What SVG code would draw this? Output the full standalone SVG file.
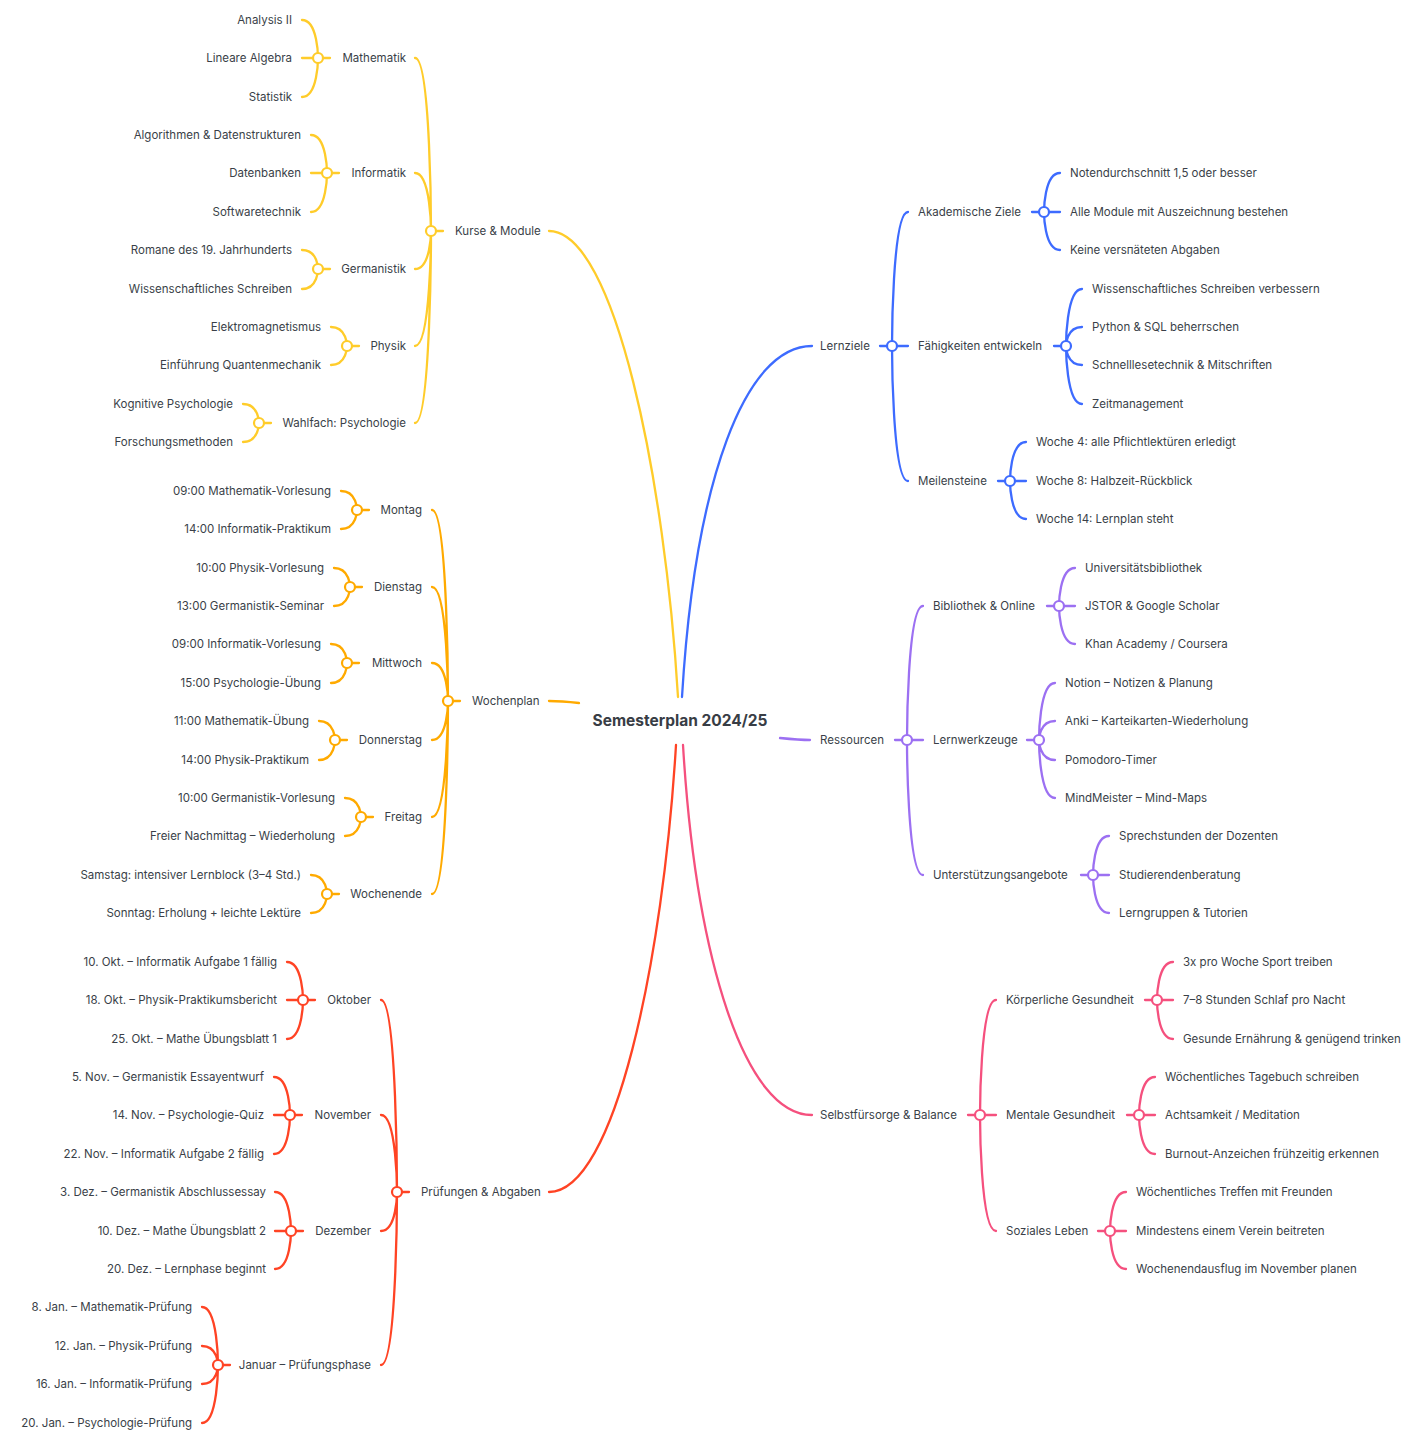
<svg xmlns="http://www.w3.org/2000/svg" width="1414" height="1450" viewBox="0 0 1414 1450">
<style>
text{font-family:Inter,"Liberation Sans",sans-serif;font-size:11.5px;fill:#3a3f48;dominant-baseline:central}
.e{text-anchor:end}
.root{font-size:15.5px;font-weight:700;text-anchor:middle;fill:#383d45}
path{fill:none;stroke-width:2.3;stroke-linecap:round}
circle{fill:#fff;stroke-width:2.2}
.y{stroke:#FFCC2A}.o{stroke:#FFAA00}.r{stroke:#FF4324}.b{stroke:#3D6BFF}.p{stroke:#9C70F2}.k{stroke:#F5507E}
</style>
<rect width="1414" height="1450" fill="#fff"/>
<g id="connectors">
<g class="y">
<path d="M678,697 C665,480 615,231 549,231"/>
<path d="M415,58 C431,58 431,231 431,231M415,173 C431,173 431,231 431,231M415,269 C431,269 431,231 431,231M415,346 C431,346 431,231 431,231M415,423 C431,423 431,231 431,231M431,231 L443,231"/>
<path d="M302,20 C318,20 318,58 318,58M302,58 L318,58M302,97 C318,97 318,58 318,58M318,58 L330,58"/>
<path d="M311,135 C327,135 327,173 327,173M311,173 L327,173M311,212 C327,212 327,173 327,173M327,173 L339,173"/>
<path d="M302,250 C318,250 318,269 318,269M302,289 C318,289 318,269 318,269M318,269 L330,269"/>
<path d="M331,327 C347,327 347,346 347,346M331,365 C347,365 347,346 347,346M347,346 L359,346"/>
<path d="M243,404 C259,404 259,423 259,423M243,442 C259,442 259,423 259,423M259,423 L271,423"/>
<circle cx="431" cy="231" r="5"/><circle cx="318" cy="58" r="5"/><circle cx="327" cy="173" r="5"/><circle cx="318" cy="269" r="5"/><circle cx="347" cy="346" r="5"/><circle cx="259" cy="423" r="5"/>
</g>
<g class="o">
<path d="M549,701 C560,701 570,702 579,703"/>
<path d="M432,510 C448,510 448,701 448,701M432,587 C448,587 448,701 448,701M432,663 C448,663 448,701 448,701M432,740 C448,740 448,701 448,701M432,817 C448,817 448,701 448,701M432,894 C448,894 448,701 448,701M448,701 L460,701"/>
<path d="M341,491 C357,491 357,510 357,510M341,529 C357,529 357,510 357,510M357,510 L369,510"/>
<path d="M334,568 C350,568 350,587 350,587M334,606 C350,606 350,587 350,587M350,587 L362,587"/>
<path d="M331,644 C347,644 347,663 347,663M331,683 C347,683 347,663 347,663M347,663 L359,663"/>
<path d="M319,721 C335,721 335,740 335,740M319,760 C335,760 335,740 335,740M335,740 L347,740"/>
<path d="M345,798 C361,798 361,817 361,817M345,836 C361,836 361,817 361,817M361,817 L373,817"/>
<path d="M311,875 C327,875 327,894 327,894M311,913 C327,913 327,894 327,894M327,894 L339,894"/>
<circle cx="448" cy="701" r="5"/><circle cx="357" cy="510" r="5"/><circle cx="350" cy="587" r="5"/><circle cx="347" cy="663" r="5"/><circle cx="335" cy="740" r="5"/><circle cx="361" cy="817" r="5"/><circle cx="327" cy="894" r="5"/>
</g>
<g class="r">
<path d="M676,745 C663,960 615,1192 549,1192"/>
<path d="M381,1000 C397,1000 397,1192 397,1192M381,1115 C397,1115 397,1192 397,1192M381,1231 C397,1231 397,1192 397,1192M381,1365 C397,1365 397,1192 397,1192M397,1192 L409,1192"/>
<path d="M287,962 C303,962 303,1000 303,1000M287,1000 L303,1000M287,1039 C303,1039 303,1000 303,1000M303,1000 L315,1000"/>
<path d="M274,1077 C290,1077 290,1115 290,1115M274,1115 L290,1115M274,1154 C290,1154 290,1115 290,1115M290,1115 L302,1115"/>
<path d="M275,1192 C291,1192 291,1231 291,1231M275,1231 L291,1231M275,1269 C291,1269 291,1231 291,1231M291,1231 L303,1231"/>
<path d="M202,1307 C218,1307 218,1365 218,1365M202,1346 C218,1346 218,1365 218,1365M202,1384 C218,1384 218,1365 218,1365M202,1423 C218,1423 218,1365 218,1365M218,1365 L230,1365"/>
<circle cx="397" cy="1192" r="5"/><circle cx="303" cy="1000" r="5"/><circle cx="290" cy="1115" r="5"/><circle cx="291" cy="1231" r="5"/><circle cx="218" cy="1365" r="5"/>
</g>
<g class="b">
<path d="M682,697 C695,480 745,346 812,346"/>
<path d="M880,346 L892,346M908,212 C892,212 892,346 892,346M908,346 L892,346M908,481 C892,481 892,346 892,346"/>
<path d="M1032,212 L1044,212M1060,173 C1044,173 1044,212 1044,212M1060,212 L1044,212M1060,250 C1044,250 1044,212 1044,212"/>
<path d="M1054,346 L1066,346M1082,289 C1066,289 1066,346 1066,346M1082,327 C1066,327 1066,346 1066,346M1082,365 C1066,365 1066,346 1066,346M1082,404 C1066,404 1066,346 1066,346"/>
<path d="M998,481 L1010,481M1026,442 C1010,442 1010,481 1010,481M1026,481 L1010,481M1026,519 C1010,519 1010,481 1010,481"/>
<circle cx="892" cy="346" r="5"/><circle cx="1044" cy="212" r="5"/><circle cx="1066" cy="346" r="5"/><circle cx="1010" cy="481" r="5"/>
</g>
<g class="p">
<path d="M780,738 C790,739 800,740 810,740"/>
<path d="M895,740 L907,740M923,606 C907,606 907,740 907,740M923,740 L907,740M923,875 C907,875 907,740 907,740"/>
<path d="M1047,606 L1059,606M1075,568 C1059,568 1059,606 1059,606M1075,606 L1059,606M1075,644 C1059,644 1059,606 1059,606"/>
<path d="M1027,740 L1039,740M1055,683 C1039,683 1039,740 1039,740M1055,721 C1039,721 1039,740 1039,740M1055,760 C1039,760 1039,740 1039,740M1055,798 C1039,798 1039,740 1039,740"/>
<path d="M1081,875 L1093,875M1109,836 C1093,836 1093,875 1093,875M1109,875 L1093,875M1109,913 C1093,913 1093,875 1093,875"/>
<circle cx="907" cy="740" r="5"/><circle cx="1059" cy="606" r="5"/><circle cx="1039" cy="740" r="5"/><circle cx="1093" cy="875" r="5"/>
</g>
<g class="k">
<path d="M683,745 C696,960 745,1115 812,1115"/>
<path d="M968,1115 L980,1115M996,1000 C980,1000 980,1115 980,1115M996,1115 L980,1115M996,1231 C980,1231 980,1115 980,1115"/>
<path d="M1145,1000 L1157,1000M1173,962 C1157,962 1157,1000 1157,1000M1173,1000 L1157,1000M1173,1039 C1157,1039 1157,1000 1157,1000"/>
<path d="M1127,1115 L1139,1115M1155,1077 C1139,1077 1139,1115 1139,1115M1155,1115 L1139,1115M1155,1154 C1139,1154 1139,1115 1139,1115"/>
<path d="M1098,1231 L1110,1231M1126,1192 C1110,1192 1110,1231 1110,1231M1126,1231 L1110,1231M1126,1269 C1110,1269 1110,1231 1110,1231"/>
<circle cx="980" cy="1115" r="5"/><circle cx="1157" cy="1000" r="5"/><circle cx="1139" cy="1115" r="5"/><circle cx="1110" cy="1231" r="5"/>
</g>
</g>
<g id="root"><text class="root" x="680" y="720">Semesterplan 2024/25</text></g>
<g id="kurse"><text x="455" y="231">Kurse &amp; Module</text></g>
<g id="mathematik"><text class="e" x="406" y="58">Mathematik</text></g>
<g id="analysis"><text class="e" x="292" y="20">Analysis II</text></g>
<g id="linalg"><text class="e" x="292" y="58">Lineare Algebra</text></g>
<g id="statistik"><text class="e" x="292" y="97">Statistik</text></g>
<g id="informatik"><text class="e" x="406" y="173">Informatik</text></g>
<g id="algo"><text class="e" x="301" y="135">Algorithmen &amp; Datenstrukturen</text></g>
<g id="db"><text class="e" x="301" y="173">Datenbanken</text></g>
<g id="swt"><text class="e" x="301" y="212">Softwaretechnik</text></g>
<g id="germanistik"><text class="e" x="406" y="269">Germanistik</text></g>
<g id="romane"><text class="e" x="292" y="250">Romane des 19. Jahrhunderts</text></g>
<g id="wissschreiben"><text class="e" x="292" y="289">Wissenschaftliches Schreiben</text></g>
<g id="physik"><text class="e" x="406" y="346">Physik</text></g>
<g id="elektro"><text class="e" x="321" y="327">Elektromagnetismus</text></g>
<g id="quanten"><text class="e" x="321" y="365">Einführung Quantenmechanik</text></g>
<g id="wahlfach"><text class="e" x="406" y="423">Wahlfach: Psychologie</text></g>
<g id="kogpsy"><text class="e" x="233" y="404">Kognitive Psychologie</text></g>
<g id="forschung"><text class="e" x="233" y="442">Forschungsmethoden</text></g>
<g id="wochenplan"><text x="472" y="701">Wochenplan</text></g>
<g id="montag"><text class="e" x="422" y="510">Montag</text></g>
<g id="mo1"><text class="e" x="331" y="491">09:00 Mathematik-Vorlesung</text></g>
<g id="mo2"><text class="e" x="331" y="529">14:00 Informatik-Praktikum</text></g>
<g id="dienstag"><text class="e" x="422" y="587">Dienstag</text></g>
<g id="di1"><text class="e" x="324" y="568">10:00 Physik-Vorlesung</text></g>
<g id="di2"><text class="e" x="324" y="606">13:00 Germanistik-Seminar</text></g>
<g id="mittwoch"><text class="e" x="422" y="663">Mittwoch</text></g>
<g id="mi1"><text class="e" x="321" y="644">09:00 Informatik-Vorlesung</text></g>
<g id="mi2"><text class="e" x="321" y="683">15:00 Psychologie-Übung</text></g>
<g id="donnerstag"><text class="e" x="422" y="740">Donnerstag</text></g>
<g id="do1"><text class="e" x="309" y="721">11:00 Mathematik-Übung</text></g>
<g id="do2"><text class="e" x="309" y="760">14:00 Physik-Praktikum</text></g>
<g id="freitag"><text class="e" x="422" y="817">Freitag</text></g>
<g id="fr1"><text class="e" x="335" y="798">10:00 Germanistik-Vorlesung</text></g>
<g id="fr2"><text class="e" x="335" y="836">Freier Nachmittag – Wiederholung</text></g>
<g id="wochenende"><text class="e" x="422" y="894">Wochenende</text></g>
<g id="we1"><text class="e" x="301" y="875">Samstag: intensiver Lernblock (3–4 Std.)</text></g>
<g id="we2"><text class="e" x="301" y="913">Sonntag: Erholung + leichte Lektüre</text></g>
<g id="pruefungen"><text x="421" y="1192">Prüfungen &amp; Abgaben</text></g>
<g id="oktober"><text class="e" x="371" y="1000">Oktober</text></g>
<g id="ok1"><text class="e" x="277" y="962">10. Okt. – Informatik Aufgabe 1 fällig</text></g>
<g id="ok2"><text class="e" x="277" y="1000">18. Okt. – Physik-Praktikumsbericht</text></g>
<g id="ok3"><text class="e" x="277" y="1039">25. Okt. – Mathe Übungsblatt 1</text></g>
<g id="november"><text class="e" x="371" y="1115">November</text></g>
<g id="no1"><text class="e" x="264" y="1077">5. Nov. – Germanistik Essayentwurf</text></g>
<g id="no2"><text class="e" x="264" y="1115">14. Nov. – Psychologie-Quiz</text></g>
<g id="no3"><text class="e" x="264" y="1154">22. Nov. – Informatik Aufgabe 2 fällig</text></g>
<g id="dezember"><text class="e" x="371" y="1231">Dezember</text></g>
<g id="de1"><text class="e" x="266" y="1192">3. Dez. – Germanistik Abschlussessay</text></g>
<g id="de2"><text class="e" x="266" y="1231">10. Dez. – Mathe Übungsblatt 2</text></g>
<g id="de3"><text class="e" x="266" y="1269">20. Dez. – Lernphase beginnt</text></g>
<g id="januar"><text class="e" x="371" y="1365">Januar – Prüfungsphase</text></g>
<g id="ja1"><text class="e" x="192" y="1307">8. Jan. – Mathematik-Prüfung</text></g>
<g id="ja2"><text class="e" x="192" y="1346">12. Jan. – Physik-Prüfung</text></g>
<g id="ja3"><text class="e" x="192" y="1384">16. Jan. – Informatik-Prüfung</text></g>
<g id="ja4"><text class="e" x="192" y="1423">20. Jan. – Psychologie-Prüfung</text></g>
<g id="lernziele"><text x="820" y="346">Lernziele</text></g>
<g id="akademisch"><text x="918" y="212">Akademische Ziele</text></g>
<g id="ak1"><text x="1070" y="173">Notendurchschnitt 1,5 oder besser</text></g>
<g id="ak2"><text x="1070" y="212">Alle Module mit Auszeichnung bestehen</text></g>
<g id="ak3"><text x="1070" y="250">Keine versпäteten Abgaben</text></g>
<g id="faehigkeiten"><text x="918" y="346">Fähigkeiten entwickeln</text></g>
<g id="fa1"><text x="1092" y="289">Wissenschaftliches Schreiben verbessern</text></g>
<g id="fa2"><text x="1092" y="327">Python &amp; SQL beherrschen</text></g>
<g id="fa3"><text x="1092" y="365">Schnelllesetechnik &amp; Mitschriften</text></g>
<g id="fa4"><text x="1092" y="404">Zeitmanagement</text></g>
<g id="meilensteine"><text x="918" y="481">Meilensteine</text></g>
<g id="me1"><text x="1036" y="442">Woche 4: alle Pflichtlektüren erledigt</text></g>
<g id="me2"><text x="1036" y="481">Woche 8: Halbzeit-Rückblick</text></g>
<g id="me3"><text x="1036" y="519">Woche 14: Lernplan steht</text></g>
<g id="ressourcen"><text x="820" y="740">Ressourcen</text></g>
<g id="bibliothek"><text x="933" y="606">Bibliothek &amp; Online</text></g>
<g id="bi1"><text x="1085" y="568">Universitätsbibliothek</text></g>
<g id="bi2"><text x="1085" y="606">JSTOR &amp; Google Scholar</text></g>
<g id="bi3"><text x="1085" y="644">Khan Academy / Coursera</text></g>
<g id="lernwerkzeuge"><text x="933" y="740">Lernwerkzeuge</text></g>
<g id="lw1"><text x="1065" y="683">Notion – Notizen &amp; Planung</text></g>
<g id="lw2"><text x="1065" y="721">Anki – Karteikarten-Wiederholung</text></g>
<g id="lw3"><text x="1065" y="760">Pomodoro-Timer</text></g>
<g id="lw4"><text x="1065" y="798">MindMeister – Mind-Maps</text></g>
<g id="unterstuetzung"><text x="933" y="875">Unterstützungsangebote</text></g>
<g id="un1"><text x="1119" y="836">Sprechstunden der Dozenten</text></g>
<g id="un2"><text x="1119" y="875">Studierendenberatung</text></g>
<g id="un3"><text x="1119" y="913">Lerngruppen &amp; Tutorien</text></g>
<g id="selbstfuersorge"><text x="820" y="1115">Selbstfürsorge &amp; Balance</text></g>
<g id="koerper"><text x="1006" y="1000">Körperliche Gesundheit</text></g>
<g id="ko1"><text x="1183" y="962">3x pro Woche Sport treiben</text></g>
<g id="ko2"><text x="1183" y="1000">7–8 Stunden Schlaf pro Nacht</text></g>
<g id="ko3"><text x="1183" y="1039">Gesunde Ernährung &amp; genügend trinken</text></g>
<g id="mental"><text x="1006" y="1115">Mentale Gesundheit</text></g>
<g id="mg1"><text x="1165" y="1077">Wöchentliches Tagebuch schreiben</text></g>
<g id="mg2"><text x="1165" y="1115">Achtsamkeit / Meditation</text></g>
<g id="mg3"><text x="1165" y="1154">Burnout-Anzeichen frühzeitig erkennen</text></g>
<g id="sozial"><text x="1006" y="1231">Soziales Leben</text></g>
<g id="so1"><text x="1136" y="1192">Wöchentliches Treffen mit Freunden</text></g>
<g id="so2"><text x="1136" y="1231">Mindestens einem Verein beitreten</text></g>
<g id="so3"><text x="1136" y="1269">Wochenendausflug im November planen</text></g>
</svg>
